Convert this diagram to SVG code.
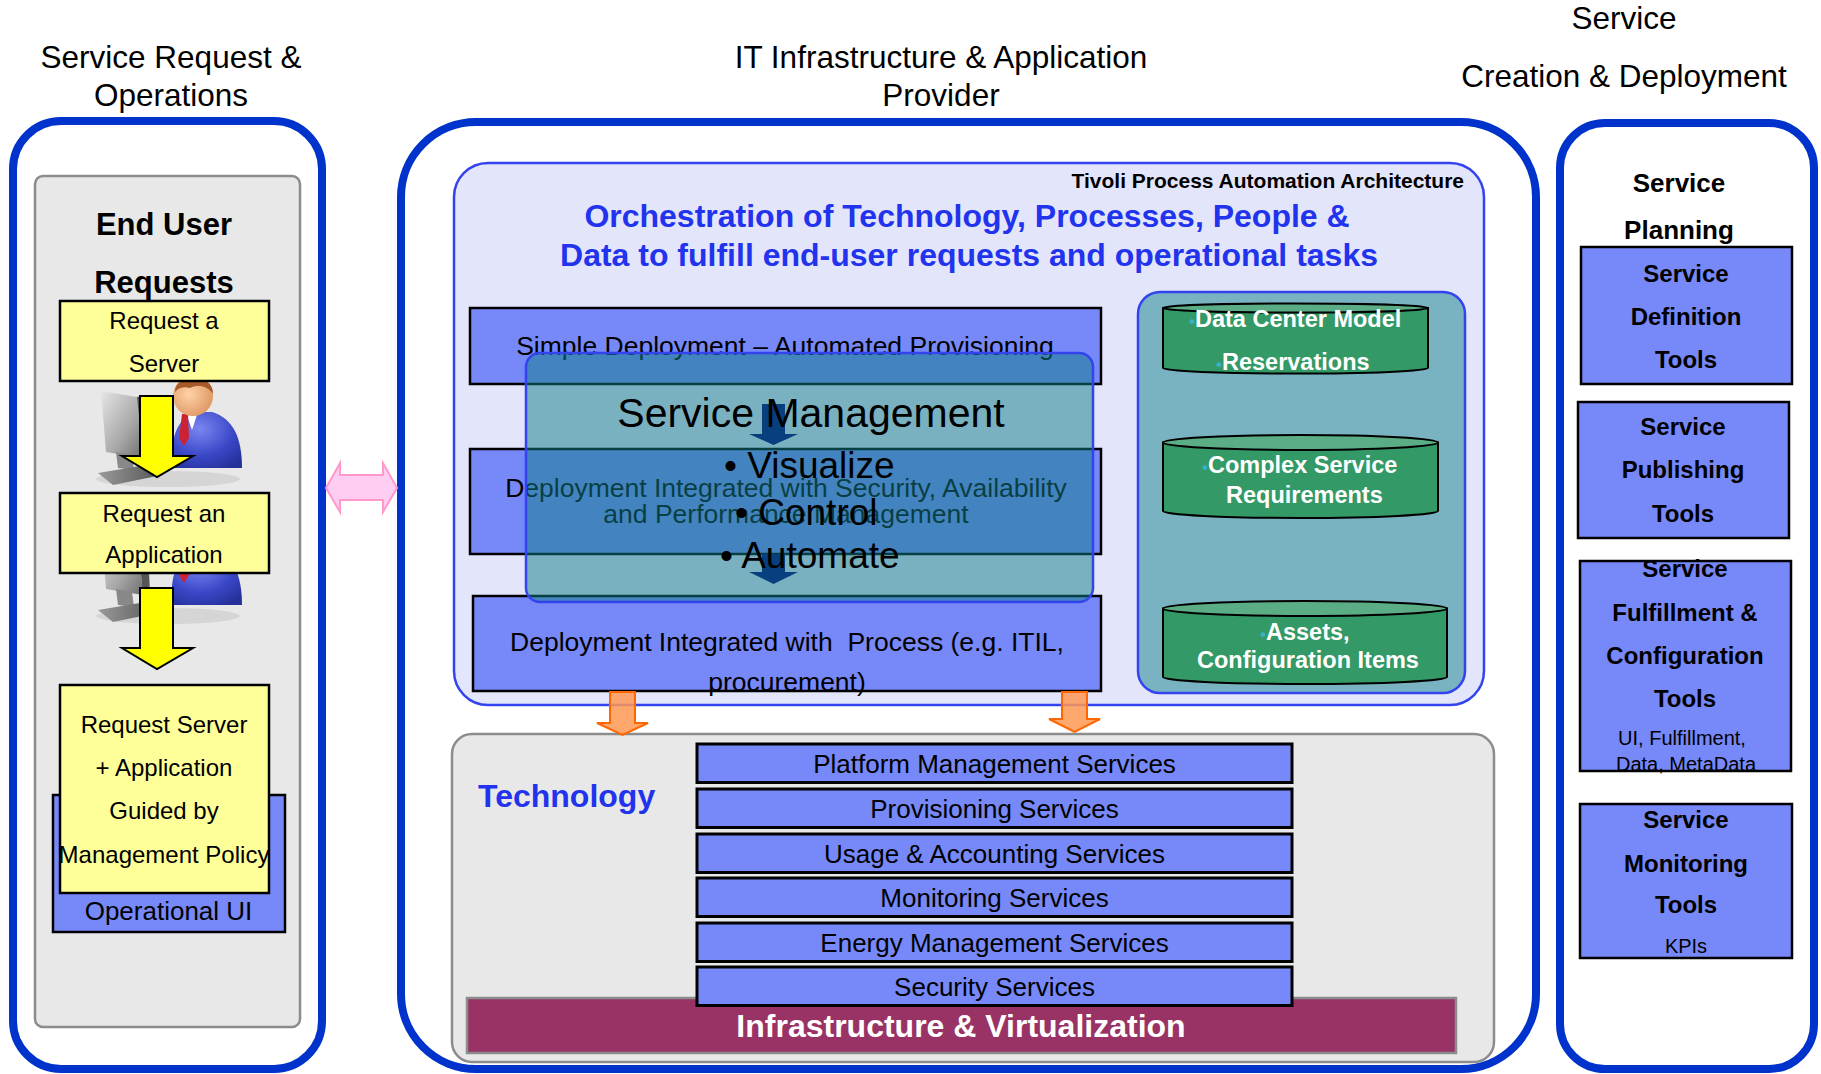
<svg xmlns="http://www.w3.org/2000/svg" width="1821" height="1074" viewBox="0 0 1821 1074">
  <defs>
    <style>
      text { font-family: "Liberation Sans", Arial, sans-serif; }
      .frame { fill: none; stroke: #0033cc; stroke-width: 8; }
      .panel { fill: #e8e8e8; stroke: #8c8c8c; stroke-width: 2.5; }
      .yel { fill: #ffff99; stroke: #000; stroke-width: 2.5; }
      .blu { fill: #7788f8; stroke: #000; stroke-width: 2.5; }
      .svc { fill: #7788f8; stroke: #000; stroke-width: 3; }
      .hdr { font-size: 31.5px; fill: #000; text-anchor: middle; }
      .req { font-size: 24px; fill: #000; text-anchor: middle; }
      .proc { font-size: 26.5px; fill: #000; text-anchor: middle; }
      .svct { font-size: 26px; fill: #000; text-anchor: middle; }
      .tool { font-size: 24px; font-weight: bold; fill: #000; text-anchor: middle; }
      .note { font-size: 20px; fill: #000; text-anchor: middle; }
      .cyl { fill: #339966; stroke: #000; stroke-width: 2; }
      .cyltop { fill: #5aad85; stroke: #000; stroke-width: 2; }
      .cylt { font-size: 23.5px; font-weight: bold; fill: #fff; }
      .dot { fill: #3ab0c8; font-size: 17px; }
      .blueh { font-weight: bold; fill: #2233ee; }
      .yarrow { fill: #ffff00; stroke: #000; stroke-width: 2; }
      .oarrow { fill: #ff9955; fill-opacity: 0.85; stroke: #ff6600; stroke-width: 2; }
      .narrow { fill: #000078; }
    </style>
    <linearGradient id="monGrad" x1="0" y1="0" x2="1" y2="1">
      <stop offset="0" stop-color="#e6e6e6"/>
      <stop offset="0.6" stop-color="#a8a8a8"/>
      <stop offset="1" stop-color="#6e6e6e"/>
    </linearGradient>
    <linearGradient id="baseGrad" x1="0" y1="0" x2="1" y2="0">
      <stop offset="0" stop-color="#9a9a9a"/>
      <stop offset="1" stop-color="#5a5a5a"/>
    </linearGradient>
    <radialGradient id="suitGrad" cx="0.4" cy="0.3" r="0.8">
      <stop offset="0" stop-color="#7a86f0"/>
      <stop offset="0.6" stop-color="#3a48c8"/>
      <stop offset="1" stop-color="#26309a"/>
    </radialGradient>
    <radialGradient id="skinGrad" cx="0.4" cy="0.45" r="0.6">
      <stop offset="0" stop-color="#ffd2a8"/>
      <stop offset="1" stop-color="#e09a66"/>
    </radialGradient>
    <!-- user at a workstation -->
    <g id="userIcon">
      <ellipse cx="168" cy="479" rx="72" ry="8" fill="#000" opacity="0.08"/>
      <path d="M101,391 L137,397 L143,458 L106,452 Z" fill="url(#monGrad)"/>
      <path d="M137,397 L147,395 L150,455 L143,458 Z" fill="#555"/>
      <path d="M116,452 L132,455 L134,470 L118,468 Z" fill="#888"/>
      <path d="M98,473 L140,466 L157,476 L113,485 Z" fill="url(#baseGrad)"/>
      <path d="M172,468 C170,440 176,420 194,412 L212,412 C232,418 242,436 242,468 Z" fill="url(#suitGrad)"/>
      <path d="M186,413 L198,412 L192,430 Z" fill="#fff"/>
      <path d="M182,414 L188,414 L189,438 L184,446 L179,438 Z" fill="#cc2233"/>
      <circle cx="193" cy="396" r="20" fill="url(#skinGrad)"/>
      <path d="M175,392 C174,374 214,372 213,394 C208,386 198,384 190,388 C184,386 178,388 175,392 Z" fill="#a85a28"/>
    </g>
  </defs>

  <rect width="1821" height="1074" fill="#fff"/>

  <!-- column headings -->
  <g id="headings">
    <text class="hdr" x="171" y="68">Service Request &amp;</text>
    <text class="hdr" x="171" y="106">Operations</text>
    <text class="hdr" x="941" y="68">IT Infrastructure &amp; Application</text>
    <text class="hdr" x="941" y="106">Provider</text>
    <text class="hdr" x="1624" y="29">Service</text>
    <text class="hdr" x="1624" y="87">Creation &amp; Deployment</text>
  </g>

  <!-- outer column frames -->
  <g id="frame-operations"><rect class="frame" x="13" y="121" width="309" height="948" rx="48"/></g>
  <g id="frame-provider"><rect class="frame" x="401" y="122" width="1135" height="947" rx="75"/></g>
  <g id="frame-creation"><rect class="frame" x="1560" y="123" width="254" height="946" rx="45"/></g>

  <!-- left column: end user requests -->
  <g id="end-user-requests">
    <rect class="panel" x="35" y="176" width="265" height="851" rx="8"/>
    <text x="164" y="235" font-size="31" font-weight="bold" text-anchor="middle">End User</text>
    <text x="164" y="293" font-size="31" font-weight="bold" text-anchor="middle">Requests</text>
    <use href="#userIcon"/>
    <use href="#userIcon" transform="translate(0,137)"/>
  </g>
  <g id="request-server">
    <rect class="yel" x="60" y="301" width="209" height="80"/>
    <text class="req" x="164" y="329">Request a</text>
    <text class="req" x="164" y="372">Server</text>
  </g>
  <g id="request-application">
    <rect class="yel" x="60" y="493" width="209" height="80"/>
    <text class="req" x="164" y="522">Request an</text>
    <text class="req" x="164" y="563">Application</text>
  </g>
  <g id="operational-ui">
    <rect class="blu" x="53" y="795" width="232" height="137"/>
    <text x="168.5" y="920" font-size="26" text-anchor="middle">Operational UI</text>
  </g>
  <g id="request-guided">
    <rect class="yel" x="60" y="685" width="209" height="208"/>
    <text class="req" x="164" y="733">Request Server</text>
    <text class="req" x="164" y="776">+ Application</text>
    <text class="req" x="164" y="819">Guided by</text>
    <text class="req" x="164" y="863">Management Policy</text>
  </g>

  <!-- middle column: process automation -->
  <g id="process-automation">
    <rect x="454" y="163" width="1030" height="542" rx="34" fill="#e3e5fb" stroke="#3344ee" stroke-width="2.5"/>
    <text x="1464" y="188" font-size="21" font-weight="bold" text-anchor="end">Tivoli Process Automation Architecture</text>
    <text class="blueh" x="967" y="227" font-size="32" text-anchor="middle">Orchestration of Technology, Processes, People &amp;</text>
    <text class="blueh" x="969" y="266" font-size="32" text-anchor="middle">Data to fulfill end-user requests and operational tasks</text>
  </g>
  <g id="simple-deployment">
    <rect class="blu" x="470" y="308" width="631" height="76"/>
    <text class="proc" x="785" y="355">Simple Deployment – Automated Provisioning</text>
  </g>
  <g id="deployment-security">
    <rect class="blu" x="470" y="449" width="631" height="105"/>
    <text class="proc" x="786" y="497">Deployment Integrated with Security, Availability</text>
    <text class="proc" x="786" y="523">and Performance Management</text>
  </g>
  <g id="deployment-process">
    <rect class="blu" x="473" y="596" width="628" height="95"/>
    <text class="proc" x="787" y="651" xml:space="preserve">Deployment Integrated with  Process (e.g. ITIL,</text>
    <text class="proc" x="787" y="691">procurement)</text>
  </g>

  <!-- data stores -->
  <g id="data-stores">
    <rect x="1138" y="292" width="327" height="401" rx="22" fill="#79b3c1" stroke="#3344ee" stroke-width="2.5"/>
  </g>
  <g id="store-data-center">
    <path class="cyl" d="M1163,308 V368 A132.5,5.5 0 0 0 1428,368 V308 Z"/>
    <ellipse class="cyltop" cx="1295.5" cy="308" rx="132.5" ry="4.5"/>
    <text class="cylt" x="1189" y="327"><tspan class="dot">•</tspan>Data Center Model</text>
    <text class="cylt" x="1216" y="370"><tspan class="dot">•</tspan>Reservations</text>
  </g>
  <g id="store-requirements">
    <path class="cyl" d="M1163,442.5 V511 A137.5,7 0 0 0 1438,511 V442.5 Z"/>
    <ellipse class="cyltop" cx="1300.5" cy="442.5" rx="137.5" ry="7.5"/>
    <text class="cylt" x="1202" y="473"><tspan class="dot">•</tspan>Complex Service</text>
    <text class="cylt" x="1226" y="503">Requirements</text>
  </g>
  <g id="store-assets">
    <path class="cyl" d="M1163,608.5 V677 A142,7 0 0 0 1447,677 V608.5 Z"/>
    <ellipse class="cyltop" cx="1305" cy="608.5" rx="142" ry="7.5"/>
    <text class="cylt" x="1260" y="640"><tspan class="dot">•</tspan>Assets,</text>
    <text class="cylt" x="1197" y="668">Configuration Items</text>
  </g>

  <!-- technology layer -->
  <g id="technology">
    <rect class="panel" x="452" y="734" width="1042" height="328" rx="20"/>
    <text class="blueh" x="478" y="807" font-size="32">Technology</text>
  </g>
  <g id="infrastructure">
    <rect x="467" y="998" width="989" height="55" fill="#993366" stroke="#8c8c8c" stroke-width="2.5"/>
    <text x="961" y="1037" font-size="32" font-weight="bold" fill="#fff" text-anchor="middle">Infrastructure &amp; Virtualization</text>
  </g>
  <g id="svc-platform">
    <rect class="svc" x="697" y="744" width="595" height="38.5"/>
    <text class="svct" x="994.5" y="773">Platform Management Services</text>
  </g>
  <g id="svc-provisioning">
    <rect class="svc" x="697" y="789" width="595" height="38.5"/>
    <text class="svct" x="994.5" y="818">Provisioning Services</text>
  </g>
  <g id="svc-usage">
    <rect class="svc" x="697" y="834" width="595" height="38.5"/>
    <text class="svct" x="994.5" y="863">Usage &amp; Accounting Services</text>
  </g>
  <g id="svc-monitoring">
    <rect class="svc" x="697" y="878" width="595" height="38.5"/>
    <text class="svct" x="994.5" y="907">Monitoring Services</text>
  </g>
  <g id="svc-energy">
    <rect class="svc" x="697" y="923" width="595" height="38.5"/>
    <text class="svct" x="994.5" y="952">Energy Management Services</text>
  </g>
  <g id="svc-security">
    <rect class="svc" x="697" y="967" width="595" height="38.5"/>
    <text class="svct" x="994.5" y="996">Security Services</text>
  </g>

  <!-- right column: service creation tools -->
  <g id="service-planning">
    <text x="1679" y="192" font-size="26" font-weight="bold" text-anchor="middle">Service</text>
    <text x="1679" y="239" font-size="26" font-weight="bold" text-anchor="middle">Planning</text>
  </g>
  <g id="tool-definition">
    <rect class="blu" x="1581" y="247" width="211" height="137"/>
    <text class="tool" x="1686" y="282">Service</text>
    <text class="tool" x="1686" y="325">Definition</text>
    <text class="tool" x="1686" y="368">Tools</text>
  </g>
  <g id="tool-publishing">
    <rect class="blu" x="1578" y="402" width="211" height="136"/>
    <text class="tool" x="1683" y="435">Service</text>
    <text class="tool" x="1683" y="478">Publishing</text>
    <text class="tool" x="1683" y="522">Tools</text>
  </g>
  <g id="tool-fulfillment">
    <rect class="blu" x="1580" y="561" width="211" height="210"/>
    <text class="tool" x="1685" y="577">Service</text>
    <text class="tool" x="1685" y="621">Fulfillment &amp;</text>
    <text class="tool" x="1685" y="664">Configuration</text>
    <text class="tool" x="1685" y="707">Tools</text>
    <text class="note" x="1682" y="745">UI, Fulfillment,</text>
    <text class="note" x="1686" y="771">Data, MetaData</text>
  </g>
  <g id="tool-monitoring">
    <rect class="blu" x="1580" y="804" width="212" height="154"/>
    <text class="tool" x="1686" y="828">Service</text>
    <text class="tool" x="1686" y="872">Monitoring</text>
    <text class="tool" x="1686" y="913">Tools</text>
    <text class="note" x="1686" y="953">KPIs</text>
  </g>

  <!-- connectors -->
  <g id="connectors">
    <polygon class="yarrow" points="140,396 173,396 173,456 193,456 157,477 122,456 140,456"/>
    <polygon class="yarrow" points="140,588 173,588 173,648 193,648 157,669 122,648 140,648"/>
    <polygon points="326,488 340,463 340,475 383,475 383,463 397,488 383,512 383,500 340,500 340,512" fill="#ffccf2" stroke="#ff99cc" stroke-width="2"/>
    <polygon class="narrow" points="762,404 785,404 785,434 798,434 773.5,445 749,434 762,434"/>
    <polygon class="narrow" points="762,554 785,554 785,572 798,572 773.5,584 749,572 762,572"/>
    <polygon class="oarrow" points="610,692 635,692 635,723 648,723 622.5,735 597,723 610,723"/>
    <polygon class="oarrow" points="1062,692 1087,692 1087,719 1100,719 1074.5,732 1049,719 1062,719"/>
  </g>

  <!-- service management overlay -->
  <g id="service-management">
    <rect x="526" y="353" width="567" height="249" rx="14" fill="rgb(16,126,134)" fill-opacity="0.5" stroke="#3344ee" stroke-width="2.5"/>
    <text x="811" y="427" font-size="41" text-anchor="middle">Service Management</text>
    <text x="724" y="478" font-size="37">• Visualize</text>
    <text x="735" y="525" font-size="37">• Control</text>
    <text x="720" y="568" font-size="37">• Automate</text>
  </g>
</svg>
